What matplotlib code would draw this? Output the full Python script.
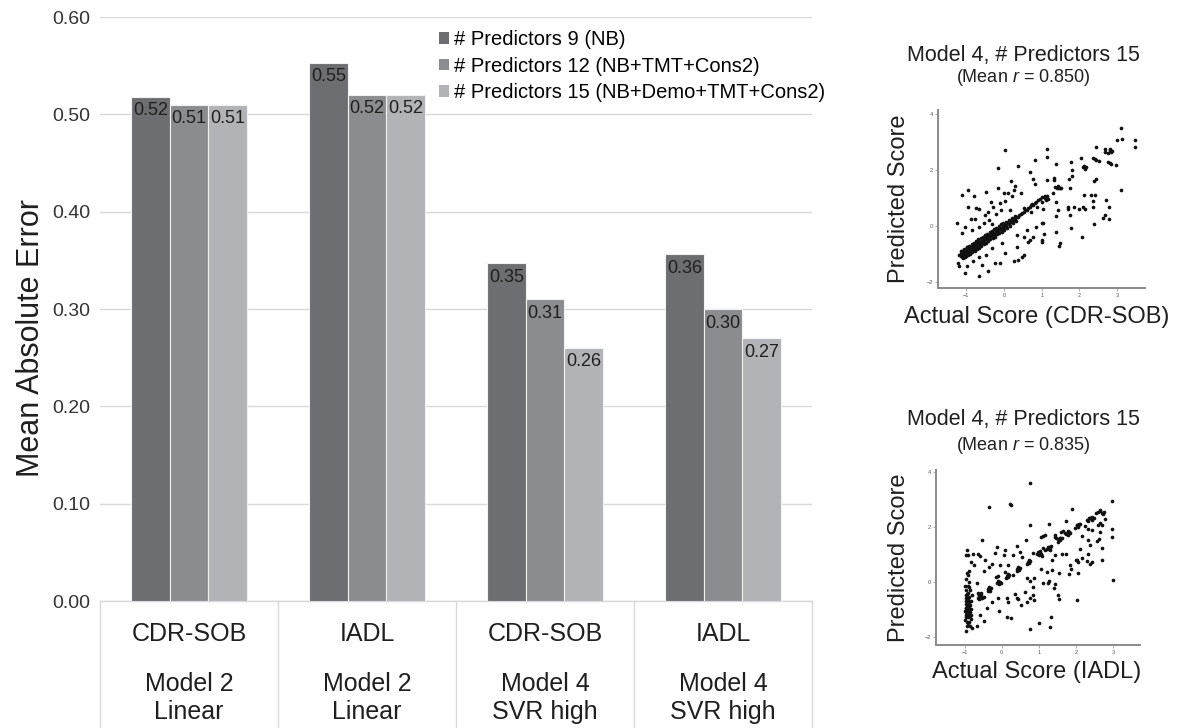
import matplotlib
matplotlib.use("Agg")
import matplotlib.pyplot as plt
import matplotlib.transforms as mtransforms
from matplotlib.patches import Patch
import numpy as np

plt.rcParams['font.family'] = ['Liberation Sans', 'DejaVu Sans']
plt.rcParams['mathtext.fontset'] = 'custom'
plt.rcParams['mathtext.it'] = 'Liberation Sans:italic'
plt.rcParams['mathtext.rm'] = 'Liberation Sans'

# ---------------- data ----------------
outcomes = ["CDR-SOB", "IADL", "CDR-SOB", "IADL"]
models = ["Model 2\nLinear", "Model 2\nLinear", "Model 4\nSVR high", "Model 4\nSVR high"]
series_names = ["# Predictors 9 (NB)", "# Predictors 12 (NB+TMT+Cons2)",
                "# Predictors 15 (NB+Demo+TMT+Cons2)"]
mae_9 = [0.518, 0.553, 0.347, 0.356]
mae_12 = [0.510, 0.520, 0.310, 0.300]
mae_15 = [0.510, 0.520, 0.260, 0.270]
yticks = [0.0, 0.1, 0.2, 0.3, 0.4, 0.5, 0.6]

# Scatter 1: Actual vs predicted CDR-SOB
cdr_x = [-1.18, -1.15, -1.13, -1.10, -1.08, -1.06, -1.05, -1.02, -1.00, -0.98, -0.96, -0.94, -0.92, -0.90,
         -0.88, -0.86, -0.84, -0.82, -0.80, -0.78, -0.76, -0.74, -0.72, -0.70, -0.68, -0.66, -0.64, -0.62,
         -0.60, -0.58, -0.56, -0.54, -0.52, -0.50, -0.48, -0.46, -0.44, -0.42, -0.40, -0.38, -0.35, -0.32,
         -0.30, -0.27, -0.24, -0.21, -0.18, -0.15, -0.12, -0.09, -0.06, -0.03, 0.00, 0.03, 0.06, 0.09,
         0.12, 0.15, 0.18, 0.21, 0.24, 0.27, 0.30, 0.33, 0.36, 0.40, 0.44, 0.48, 0.52, 0.56, 0.60, 0.64,
         0.68, 0.72, 0.75, 0.78, 0.82, 0.86, 0.90, 0.95, 1.00, 1.05, 1.10,
         -1.12, -1.08, -1.02, -0.95, -1.14, -0.90, -0.84,
         -1.12, -1.05, -0.98, -0.92, -0.86, -0.80, -0.74, -0.68, -0.62, -0.56, -0.50, -0.44, -0.38, -0.32,
         -0.26, -0.20, -0.14, -0.08, -0.02, 0.05, 0.12, 0.20, 0.28,
         -1.10, -1.03, -0.96, -0.90, -0.84, -0.78, -0.72, -0.66, -0.60, -0.54, -0.48, -0.42, -0.36, -0.30,
         -0.24, -0.18, -0.12, -0.06, 0.00, 0.08, 0.16, 0.24, 0.32,
         0.03, -0.15, 0.37, 0.81, 0.69, 0.78, 0.81, 0.19, 0.29, -1.12, -0.96, -0.79, -0.48, -0.17,
         0.00, 0.10, -0.96, -1.25, -0.75, -0.65, -0.35, -0.29, -0.10, 0.03, 0.22, 0.27, 0.45, -0.88,
         -0.77, -0.51, -0.43, -0.22, -0.09, 0.16, 0.53, 0.72, 0.87, 0.35, 0.35, 0.54, 0.65, 0.77,
         0.48, 0.53, 0.38, 0.27, -0.11, -0.25, -0.42, -0.66, -1.04, -0.97, -1.23, -1.19, -0.58, -0.82,
         0.04, -0.04, -0.31, -0.49, -0.66, -0.97, -1.11, -1.04, -0.84, -0.66, -0.53, -0.40, -0.31,
         0.69, 0.62, 0.84, 1.00, 1.02,
         3.10, 3.00, 3.12, 3.48, 3.48, 2.80, 2.84, 2.81, 2.86, 2.76, 2.67, 2.67, 2.98, 2.80, 2.84,
         2.77, 2.43, 2.37, 2.41, 2.43, 2.52, 2.04, 2.10, 2.14, 2.17, 2.12, 1.77, 1.81, 1.81, 1.73,
         1.39, 1.13, 1.15, 1.33, 1.36, 1.40, 1.45, 1.49, 1.42, 1.52, 1.33, 1.15, 1.31, 1.02, 1.04,
         1.39, 1.42, 1.39, 1.04, 1.07, 1.39, 1.02, 1.49, 1.46, 1.78, 1.76, 1.71, 1.71, 1.85, 2.00,
         2.10, 2.16, 2.12, 2.36, 2.31, 2.37, 2.42, 2.40, 2.43, 2.39, 2.06, 1.75, 2.71, 2.78, 2.68,
         2.63, 2.79, 3.11, 1.10, 1.15, 1.18, 1.12]
cdr_y = [-1.02, -0.98, -1.06, -0.95, -1.00, -0.90, -1.04, -0.93, -0.86, -0.97, -0.88, -0.80, -0.92, -0.84,
         -0.76, -0.88, -0.78, -0.72, -0.83, -0.70, -0.76, -0.66, -0.72, -0.62, -0.70, -0.58, -0.64, -0.55,
         -0.60, -0.52, -0.56, -0.48, -0.53, -0.44, -0.48, -0.40, -0.45, -0.36, -0.40, -0.33, -0.36, -0.28,
         -0.32, -0.24, -0.27, -0.18, -0.20, -0.12, -0.15, -0.07, -0.09, -0.01, -0.04, 0.04, 0.02, 0.10,
         0.07, 0.15, 0.13, 0.21, 0.18, 0.27, 0.25, 0.33, 0.31, 0.39, 0.42, 0.48, 0.50, 0.56, 0.58, 0.64,
         0.68, 0.74, 0.78, 0.76, 0.84, 0.88, 0.92, 0.98, 1.03, 1.05, 1.08,
         -1.10, -1.12, -1.08, -1.00, -0.90, -0.95, -0.86,
         -0.88, -0.82, -0.76, -0.70, -0.64, -0.60, -0.54, -0.48, -0.44, -0.38, -0.32, -0.28, -0.22, -0.16,
         -0.12, -0.06, 0.00, 0.06, 0.12, 0.16, 0.22, 0.30, 0.36,
         -1.16, -1.10, -1.04, -1.00, -0.94, -0.88, -0.82, -0.78, -0.72, -0.66, -0.60, -0.54, -0.48, -0.42,
         -0.38, -0.30, -0.26, -0.20, -0.14, -0.06, 0.02, 0.10, 0.18,
         2.71, 2.08, 2.14, 2.38, 1.94, 1.70, 1.52, 1.63, 1.43, 1.13, 1.31, 1.08, 1.21, 1.35,
         1.20, 1.20, 0.69, 0.12, 0.63, 0.60, 0.87, 0.69, 0.81, 0.89, 1.06, 1.29, 1.18, 0.24,
         0.27, 0.39, 0.51, 0.45, 0.57, 0.57, 0.63, 0.51, 0.69, -0.32, -0.74, -0.38, -0.56, -0.38,
         -1.10, -1.05, -1.21, -1.26, -1.31, -1.33, -1.61, -1.79, -1.67, -1.42, -1.31, -1.43, -1.39, -1.24,
         -0.98, -0.62, -0.80, -1.04, -1.10, -0.74, -0.26, -0.02, -0.14, -0.02, 0.10, 0.21, 0.07,
         -0.50, -0.14, -0.02, 0.10, -0.50,
         3.52, 3.10, 3.11, 3.07, 2.85, 2.71, 2.65, 2.76, 2.70, 2.62, 2.77, 2.65, 2.20, 2.27, 2.22,
         2.30, 2.82, 2.45, 2.40, 2.36, 2.33, 2.45, 2.10, 2.05, 2.12, 2.16, 2.31, 2.00, 1.79, 1.69,
         2.24, 2.76, 2.48, 1.74, 1.40, 1.35, 1.38, 1.36, 1.44, 1.35, 1.64, 1.64, 1.17, 0.87, 0.60,
         0.87, 0.57, 0.36, 0.10, -0.30, -0.20, -0.58, -0.60, -0.72, -0.08, 0.40, 0.70, 0.62, 0.67, 0.60,
         0.70, 0.62, 1.13, 0.69, 1.12, 0.90, 1.10, 1.62, 1.68, 0.06, -0.39, 1.35, 0.95, 0.70, 0.40,
         0.28, 0.26, 1.29, 1.00, 1.06, 0.98, 0.93]

# Scatter 2: Actual vs predicted IADL
iadl_x = [-0.98, -0.95, -0.93, -0.90, -0.97, -0.92, -0.88, -0.95, -0.90, -0.85, -0.96, -0.93, -0.88, -0.97,
          -0.92, -0.89, -0.95, -0.90, -0.86, -0.84, -0.99, -0.91, -0.87, -0.94, -0.83, -0.98, -0.86, -0.92,
          -0.95, -0.89, -0.88, -0.93, -0.96, -0.91, -0.90, -0.87, -0.94, -0.85, -0.82, -0.80, -0.97, -0.91,
          -0.93, -0.89, -0.96, -0.91, -0.87, -0.94, -0.90, -0.86, -0.92, -0.95, -0.88, -0.84,
          -0.62, -0.58, -0.55, -0.60, -0.65, -0.53, -0.57, -0.63, -0.60, -0.56,
          -0.36, -0.32, -0.30, -0.38, -0.34, -0.34,
          -0.12, -0.08, -0.05, -0.10, -0.03, -0.08,
          0.14, 0.18, 0.20, 0.16, 0.12, 0.16,
          0.42, 0.46, 0.48, 0.44, 0.40, 0.44,
          0.70, 0.74, 0.72, 0.68, 0.76, 0.72,
          0.96, 1.00, 1.02, 0.98, 1.05, 1.00,
          1.25, 1.30, 1.33, 1.28, 1.58, 1.55, 1.62, 1.80, 1.84, 1.78, 2.02, 2.05, 2.08, 2.35, 2.40,
          2.44, 2.60, 2.65, 1.28, 1.58, 1.82, 2.05, 2.40,
          0.76, 0.22, 0.26, -0.35, -0.52, 0.75, 0.66, 1.05, 0.84, -0.93, -0.90, -0.97, -0.78, -0.64,
          -0.58, -0.44, -0.12, -0.18, 0.10, 0.07, -0.27, -0.35, -0.47, -0.66, -0.75, -0.84, 0.40,
          0.31, 0.49, 0.55, -0.04, -0.09, -0.15, 0.09, 0.18, 0.31, 0.69, 0.77, 0.88, 0.84, 0.88,
          0.62, 0.36, 0.41, 0.13, 0.18, 0.44, -0.07, 0.15, 0.25, -0.26, -0.09, -0.47, -0.66, -0.80,
          -0.97, 0.75, -0.58, -0.40, -0.49, 0.53, 0.69, 0.77, 0.84,
          2.96, 1.88, 2.65, 2.69, 2.75, 2.73, 2.54, 2.38, 2.42, 2.33, 2.47, 2.29, 2.78, 2.65, 2.71,
          2.60, 2.96, 2.96, 2.02, 2.06, 1.97, 2.11, 2.24, 2.33, 2.15, 2.42, 2.64, 2.55, 2.62, 2.31,
          2.38, 2.69, 1.65, 1.69, 1.74, 1.60, 1.78, 1.72, 1.47, 1.51, 1.56, 1.43, 1.50, 2.11, 2.33,
          2.02, 2.06, 1.99, 2.15, 2.29, 2.38, 2.42, 2.69, 1.83, 1.87, 1.82, 2.06, 2.99, 1.21, 1.26,
          1.30, 1.12, 1.17, 1.26, 1.44, 1.12, 1.17, 1.03, 0.99, 1.08, 1.02, 1.06, 1.44, 1.62, 1.72,
          1.35, 1.05, 1.21, 1.26, 1.24, 1.35, 1.43, 1.40, 1.52, 1.55, 1.53, 1.10, 2.02, 1.33, 1.29,
          0.99]
iadl_y = [-1.40, -1.20, -1.05, -0.90, -0.80, -0.70, -1.10, -0.95, -1.30, -0.85, -0.60, -0.45, -0.55, -0.30,
          -0.15, 0.00, 0.10, 0.25, -0.30, -1.00, -1.05, -1.50, -1.45, -1.60, -0.70, -0.15, -1.25, -0.85,
          -1.10, -0.75, -1.00, -1.25, -0.70, -0.95, -0.60, 0.40, 0.30, -1.60, -1.35, -0.50, -0.95, -1.15,
          -0.88, -1.18, -1.30, -0.65, -0.90, -1.45, -0.40, -1.10, -1.00, -0.50, -0.20, -1.20,
          -0.50, -0.55, -0.48, -0.62, -0.58, -0.60, -0.42, -0.40, -0.50, -0.58,
          -0.28, -0.32, -0.22, -0.35, -0.20, -0.26,
          -0.05, -0.08, 0.00, 0.03, -0.05, -0.02,
          0.20, 0.16, 0.24, 0.28, 0.14, 0.22,
          0.45, 0.42, 0.50, 0.52, 0.40, 0.46,
          0.70, 0.68, 0.78, 0.64, 0.74, 0.72,
          1.00, 0.96, 1.05, 1.08, 1.00, 1.02,
          1.25, 1.22, 1.28, 1.18, 1.58, 1.55, 1.60, 1.80, 1.78, 1.84, 2.05, 2.02, 2.08, 2.30, 2.33,
          2.36, 2.55, 2.60, 1.24, 1.60, 1.82, 2.06, 2.30,
          3.57, 2.81, 2.79, 2.72, 1.50, 2.07, 1.53, 1.62, 1.05, 1.14, 0.96, 0.96, 1.02, 1.02,
          0.92, 0.78, 1.27, 1.05, 1.17, 0.98, 0.65, 0.54, 0.38, -0.06, 0.60, 0.72, 1.28,
          0.96, 1.08, 0.90, 0.60, 0.20, 0.16, 0.36, 0.60, 0.24, 0.12, 0.02, 0.12, -0.50, -0.68,
          -0.36, -0.46, -0.60, -0.60, -0.72, -0.62, -1.08, -1.28, -1.32, -0.72, -0.60, -1.44, -1.62, -1.70,
          -1.80, -1.71, -1.20, -0.96, -0.54, -0.84, -0.72, -0.60, -0.18,
          2.95, 2.63, 2.57, 2.48, 2.52, 2.45, 2.51, 2.30, 2.26, 2.22, 2.33, 2.25, 2.28, 2.12, 2.06,
          2.06, 1.92, 1.64, 2.05, 1.99, 1.96, 2.11, 2.04, 1.92, 1.65, 1.89, 1.80, 1.48, 1.56, 1.50,
          1.32, 1.22, 1.85, 1.78, 1.72, 1.82, 1.68, 2.21, 1.60, 1.55, 1.52, 1.62, 1.46, 1.20, 1.02,
          0.80, 0.70, 0.78, 0.86, 0.75, 0.63, 0.72, 0.78, 0.60, 0.48, 0.27, 0.30, 0.06, 1.20, 1.26,
          1.14, 1.23, 1.17, 2.09, 1.68, 1.65, 1.71, 1.05, 1.00, 0.95, 1.10, 1.02, 0.96, 1.02, 1.02,
          0.80, 0.48, 0.36, 0.03, -0.05, 0.42, -0.10, -0.24, -0.50, -0.64, 0.30, -0.06, -0.68, -1.28, -1.65,
          -1.50]

# ---------------- figure ----------------
W, H = 1181, 728
fig = plt.figure(figsize=(W / 100, H / 100), dpi=100)

def fx(px):
    return px / W

def fy(py):
    return 1 - py / H

TXT = "#1f1f1f"

# main bar chart
L, R, T, B = 100, 812, 17, 601
ax = fig.add_axes([fx(L), fy(B), fx(R) - fx(L), fy(T) - fy(B)])
c9, c12, c15 = "#6d6e72", "#8b8c8f", "#b2b3b6"
n = len(outcomes)
xpos = np.arange(n)
bw = 0.216
for off, vals, col in [(-bw, mae_9, c9), (0, mae_12, c12), (bw, mae_15, c15)]:
    bars = ax.bar(xpos + off, vals, width=bw, color=col, edgecolor="#f2f2f2", linewidth=0.8, zorder=3)
    for b, v in zip(bars, vals):
        ax.annotate(f"{round(v, 2):.2f}", (b.get_x() + b.get_width() / 2, v),
                    xytext=(0, -4), textcoords="offset points", ha="center", va="top",
                    fontsize=13, color=TXT, zorder=4)

ax.set_xlim(-0.5, n - 0.5)
ax.set_ylim(0, 0.6)
ax.set_yticks(yticks)
ax.set_yticklabels([f"{t:.2f}" for t in yticks], fontsize=14, color="#333333")
ax.tick_params(axis="y", length=0, pad=7)
ax.set_xticks([])
ax.grid(axis="y", color="#d9d9d9", linewidth=1.0, zorder=0)
for s in ax.spines.values():
    s.set_visible(False)
fig.text(fx(31), fy(338), "Mean Absolute Error", rotation=90, ha="center", va="center",
         fontsize=22, color=TXT)

# category axis (multi-level labels)
btrans = mtransforms.blended_transform_factory(ax.transData, fig.transFigure)
for k in range(n + 1):
    ax.plot([k - 0.5, k - 0.5], [fy(B), 0], transform=btrans,
            color="#d9d9d9", linewidth=1.0, clip_on=False)
ax.plot([-0.5, n - 0.5], [fy(B), fy(B)], transform=btrans, color="#d9d9d9", linewidth=1.0, clip_on=False)
for k in range(n):
    l1, l2 = models[k].split("\n")
    ax.text(k, fy(634), outcomes[k], transform=btrans, ha="center", va="center", fontsize=18, color=TXT)
    ax.text(k, fy(684), l1, transform=btrans, ha="center", va="center", fontsize=18, color=TXT)
    ax.text(k, fy(712), l2, transform=btrans, ha="center", va="center", fontsize=18, color=TXT)

handles = [Patch(facecolor=c, edgecolor="none") for c in (c9, c12, c15)]
fig.legend(handles, series_names, loc="upper left", bbox_to_anchor=(fx(439), fy(30)),
           frameon=False, fontsize=14.5, handlelength=0.5, handleheight=0.5,
           handletextpad=0.25, labelspacing=0.38, borderaxespad=0, borderpad=0)

# scatter panels
def scatter_panel(rect_px, xs, ys, xlim, ylim, title, sub, xlabel, title_y, sub_y, xlabel_y):
    l, t, r, b = rect_px
    a = fig.add_axes([fx(l), fy(b), fx(r) - fx(l), fy(t) - fy(b)])
    a.scatter(xs, ys, s=7, color="#111111", linewidths=0)
    a.set_xlim(*xlim)
    a.set_ylim(*ylim)
    a.set_xticks([-1, 0, 1, 2, 3])
    a.set_yticks([-2, 0, 2, 4])
    a.tick_params(labelsize=4, length=2, width=0.5, color="#888888", labelcolor="#555555", pad=1.5)
    for s in ("top", "right"):
        a.spines[s].set_visible(False)
    for s in ("left", "bottom"):
        a.spines[s].set_color("#8a8a8a")
        a.spines[s].set_linewidth(1.4)
    fig.text(fx(1023), fy(title_y), title, ha="center", va="center", fontsize=15.5, color=TXT)
    fig.text(fx(1023), fy(sub_y), sub, ha="center", va="center", fontsize=13, color=TXT)
    fig.text(fx(1037), fy(xlabel_y), xlabel, ha="center", va="center", fontsize=17, color=TXT)
    fig.text(fx(899), (fy(t) + fy(b)) / 2, "Predicted Score", rotation=90, ha="center", va="center",
             fontsize=17, color=TXT)
    return a

scatter_panel((938, 110, 1145, 288), cdr_x, cdr_y, (-1.75, 3.74), (-2.22, 4.16),
              "Model 4, # Predictors 15", "(Mean $r$ = 0.850)", "Actual Score (CDR-SOB)", 55, 78, 317)
scatter_panel((936, 470, 1140, 645), iadl_x, iadl_y, (-1.77, 3.72), (-2.30, 4.06),
              "Model 4, # Predictors 15", "(Mean $r$ = 0.835)", "Actual Score (IADL)", 420, 445, 672)

fig.savefig("out.png", dpi=100, facecolor="white")
